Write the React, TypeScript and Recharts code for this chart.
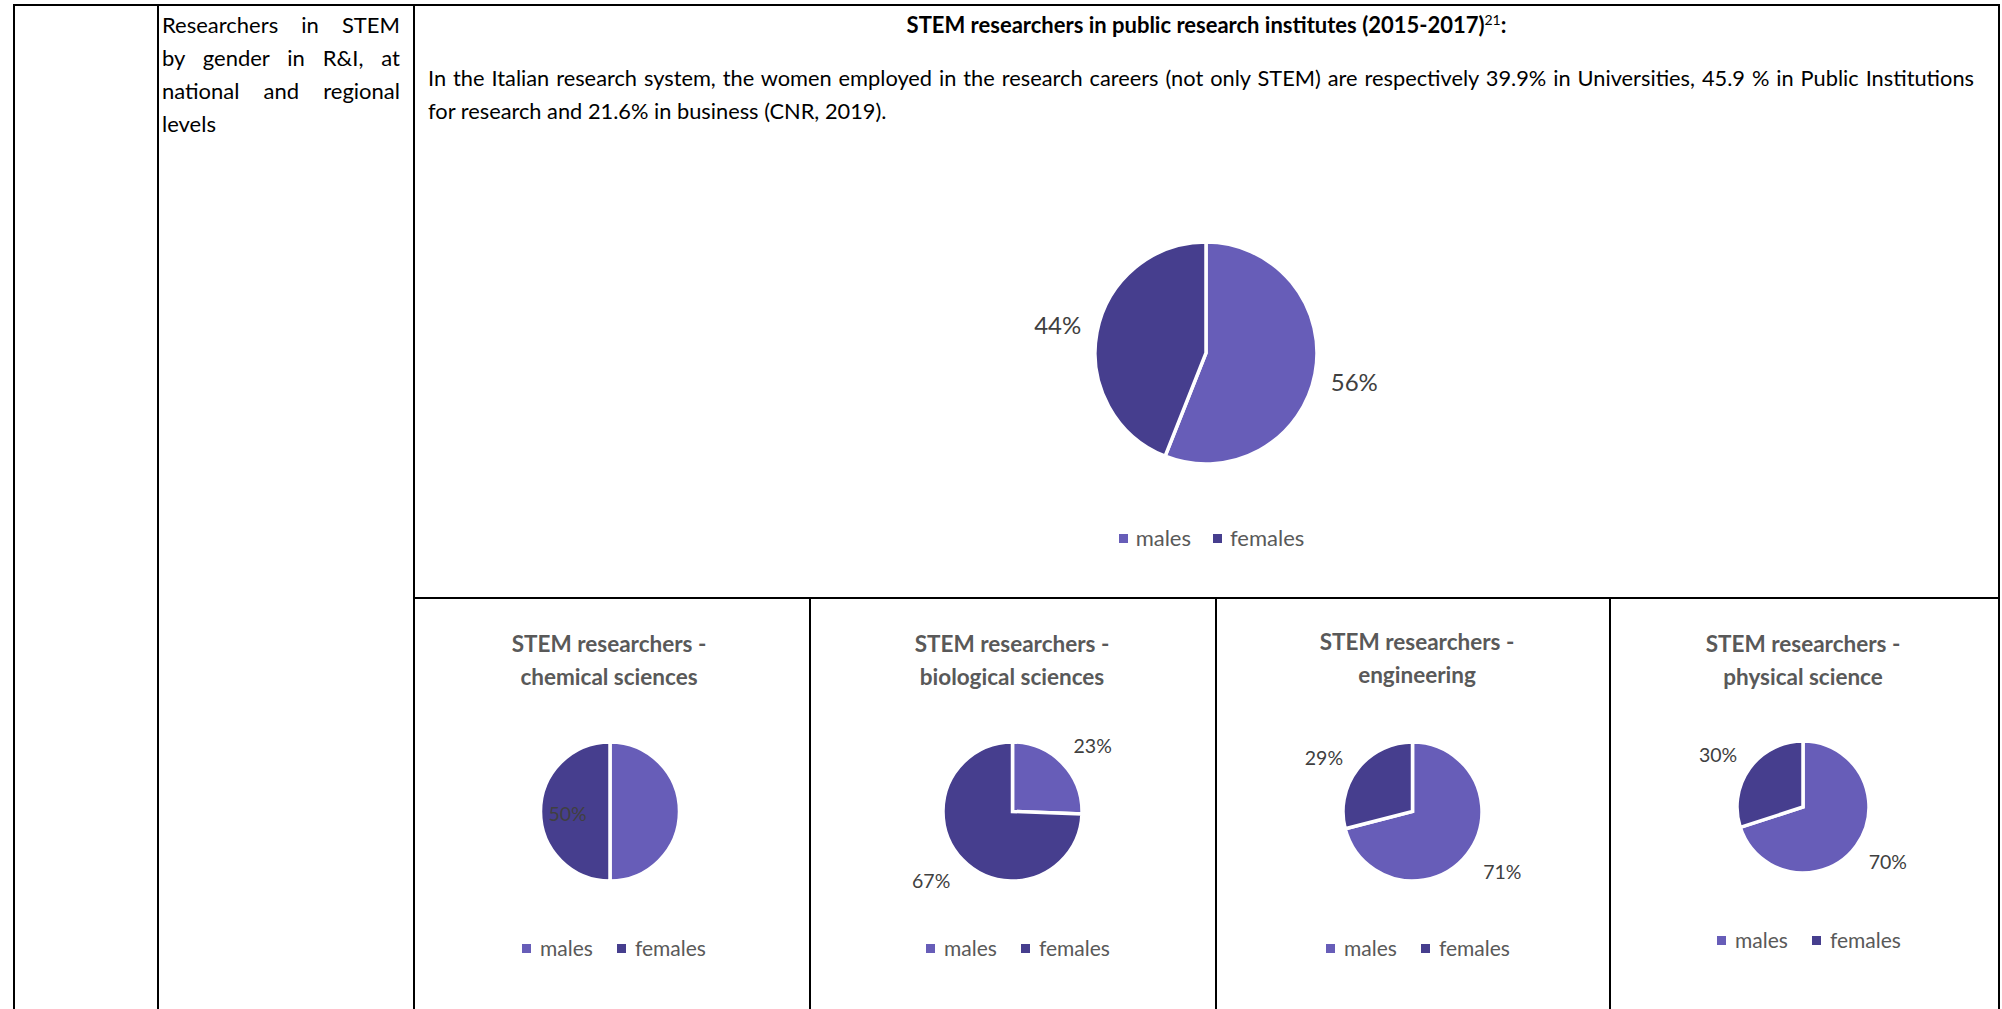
import React from 'react';
import { PieChart, Pie, Cell, Legend } from 'recharts';

// ---------- data ----------
const categories = ['males', 'females'];
const topValues = [56, 44];
const chemicalValues = [50, 50];
const biologicalValues = [23, 67];
const engineeringValues = [71, 29];
const physicalValues = [70, 30];

const topTitle = 'STEM researchers in public research institutes (2015-2017)';
const topTitleNote = '21';
const paragraphLines = [
  'In the Italian research system, the women employed in the research careers (not only STEM) are respectively 39.9% in Universities, 45.9 % in Public Institutions',
  'for research and 21.6% in business (CNR, 2019).',
];
const rowLabelLines = ['Researchers in STEM', 'by gender in R&I, at', 'national and regional', 'levels'];
const subTitles = [
  ['STEM researchers -', 'chemical sciences'],
  ['STEM researchers -', 'biological sciences'],
  ['STEM researchers -', 'engineering'],
  ['STEM researchers -', 'physical science'],
];

// ---------- styles ----------
const COLORS = ['#675DB8', '#463E8E'];
const FONT = "Lato, 'Open Sans', sans-serif";
const RAD = Math.PI / 180;

type LabelCfg = { dr: number; da: number; hide?: boolean };

type PieBlockProps = {
  values: number[];
  left: number;
  top: number;
  width: number;
  height: number;
  cx: number;
  cy: number;
  r: number;
  labelCfg: LabelCfg[];
  labelSize: number;
  legendTop: number;
  legendSize: number;
  legendShift: number;
  iconGap: number;
  itemGap: number;
  sliceGap: number;
  title?: string[];
  titleTop?: number;
};

function PieBlock(p: PieBlockProps) {
  const data = categories.map((name, i) => ({ name, value: p.values[i] }));

  const renderLabel = (lp: any) => {
    const { cx, cy, midAngle, outerRadius, value, index } = lp;
    const c = p.labelCfg[index];
    if (!c || c.hide) return <g />;
    const rr = outerRadius + c.dr;
    const a = (midAngle + c.da) * RAD;
    const x = cx + rr * Math.cos(a);
    const y = cy - rr * Math.sin(a);
    return (
      <text
        x={x}
        y={y}
        textAnchor="middle"
        dominantBaseline="central"
        fill="#404040"
        fontSize={p.labelSize}
        fontFamily={FONT}
      >
        {value}%
      </text>
    );
  };

  const renderLegend = (lp: any) => {
    const raw =
      lp && lp.payload && lp.payload.length
        ? [...lp.payload]
        : data.map((d, i) => ({ value: d.name, color: COLORS[i] }));
    const payload = raw.sort(
      (a: any, b: any) => categories.indexOf(a.value) - categories.indexOf(b.value)
    );
    return (
      <div
        style={{
          display: 'flex',
          justifyContent: 'center',
          alignItems: 'center',
          fontFamily: FONT,
          fontSize: p.legendSize,
          lineHeight: '28px',
          color: '#595959',
          transform: `translateX(${p.legendShift}px)`,
        }}
      >
        {payload.map((e: any, i: number) => (
          <span
            key={i}
            style={{ display: 'flex', alignItems: 'center', marginLeft: i ? p.itemGap : 0 }}
          >
            <span
              style={{
                width: 9,
                height: 9,
                background: e.color || COLORS[categories.indexOf(e.value)],
                marginRight: p.iconGap,
                display: 'inline-block',
              }}
            />
            <span>{e.value}</span>
          </span>
        ))}
      </div>
    );
  };

  return (
    <div style={{ position: 'absolute', left: p.left, top: p.top, width: p.width, height: p.height }}>
      {p.title && (
        <div
          style={{
            position: 'absolute',
            left: 0,
            top: p.titleTop,
            width: p.width,
            textAlign: 'center',
            fontFamily: FONT,
            fontWeight: 700,
            fontSize: 22.5,
            lineHeight: '33px',
            color: '#595959',
            whiteSpace: 'nowrap',
          }}
        >
          {p.title.map((t, i) => (
            <div key={i}>{t}</div>
          ))}
        </div>
      )}
      <PieChart width={p.width} height={p.height} margin={{ top: 0, right: 0, bottom: 0, left: 0 }}>
        <Pie
          data={data}
          dataKey="value"
          nameKey="name"
          cx={p.cx}
          cy={p.cy}
          outerRadius={p.r}
          startAngle={90}
          endAngle={-270}
          stroke="#ffffff"
          strokeWidth={p.sliceGap}
          label={renderLabel}
          labelLine={false}
          isAnimationActive={false}
        >
          {data.map((d, i) => (
            <Cell key={d.name} fill={COLORS[i]} />
          ))}
        </Pie>
        <Legend
          content={renderLegend}
          wrapperStyle={{ top: p.legendTop, left: 0, width: p.width, bottom: 'auto' }}
        />
      </PieChart>
    </div>
  );
}

const line = (style: React.CSSProperties) => (
  <div style={{ position: 'absolute', background: '#000', ...style }} />
);

export default function App() {
  const bottomTop = 599;
  const bottomH = 410;
  const bw = 380;
  return (
    <div
      style={{
        position: 'absolute',
        left: 0,
        top: 0,
        width: 2002,
        height: 1009,
        background: '#fff',
        overflow: 'hidden',
        fontFamily: FONT,
      }}
    >
      {/* table borders */}
      {line({ left: 13, top: 4, width: 1987, height: 2 })}
      {line({ left: 13, top: 4, width: 2, height: 1005 })}
      {line({ left: 157, top: 4, width: 2, height: 1005 })}
      {line({ left: 413, top: 4, width: 2, height: 1005 })}
      {line({ left: 1998, top: 4, width: 2, height: 1005 })}
      {line({ left: 413, top: 597, width: 1587, height: 2 })}
      {line({ left: 809, top: 597, width: 2, height: 412 })}
      {line({ left: 1215, top: 597, width: 2, height: 412 })}
      {line({ left: 1609, top: 597, width: 2, height: 412 })}

      {/* row label */}
      <div
        style={{
          position: 'absolute',
          left: 162,
          top: 8,
          width: 238,
          fontSize: 22,
          lineHeight: '33px',
          color: '#000',
        }}
      >
        {rowLabelLines.map((t, i) => (
          <div
            key={i}
            style={{
              textAlign: i < rowLabelLines.length - 1 ? 'justify' : 'left',
              textAlignLast: i < rowLabelLines.length - 1 ? 'justify' : 'left',
              whiteSpace: 'nowrap',
            }}
          >
            {t}
          </div>
        ))}
      </div>

      {/* top title */}
      <div
        style={{
          position: 'absolute',
          left: 415,
          top: 7.5,
          width: 1583,
          textAlign: 'center',
          fontWeight: 700,
          fontSize: 22,
          lineHeight: '33px',
          color: '#000',
          whiteSpace: 'nowrap',
        }}
      >
        {topTitle}
        <sup style={{ fontWeight: 400, fontSize: 14, verticalAlign: 'super', lineHeight: 0 }}>{topTitleNote}</sup>:
      </div>

      {/* paragraph */}
      <div
        style={{
          position: 'absolute',
          left: 428,
          top: 60.5,
          width: 1546,
          fontSize: 21.8,
          lineHeight: '33px',
          color: '#000',
        }}
      >
        {paragraphLines.map((t, i) => (
          <div
            key={i}
            style={{
              textAlign: i === 0 ? 'justify' : 'left',
              textAlignLast: i === 0 ? 'justify' : 'left',
              whiteSpace: 'nowrap',
            }}
          >
            {t}
          </div>
        ))}
      </div>

      {/* top pie */}
      <PieBlock
        values={topValues}
        left={415}
        top={120}
        width={1583}
        height={470}
        cx={791}
        cy={233}
        r={111}
        labelCfg={[
          { dr: 40, da: 0 },
          { dr: 40, da: 0 },
        ]}
        labelSize={24}
        legendTop={404}
        legendSize={22}
        legendShift={5}
        iconGap={8}
        itemGap={22}
        sliceGap={3.5}
      />

      {/* bottom pies */}
      <PieBlock
        values={chemicalValues}
        left={419}
        top={bottomTop}
        width={bw}
        height={bottomH}
        cx={191}
        cy={212.5}
        r={69.5}
        labelCfg={[
          { dr: 0, da: 0, hide: true },
          { dr: -27, da: 3 },
        ]}
        labelSize={19.5}
        legendTop={335}
        legendSize={21}
        legendShift={5}
        iconGap={9}
        itemGap={24}
        sliceGap={3.5}
        title={subTitles[0]}
        titleTop={27.5}
      />
      <PieBlock
        values={biologicalValues}
        left={822}
        top={bottomTop}
        width={bw}
        height={bottomH}
        cx={190.5}
        cy={212.5}
        r={69.5}
        labelCfg={[
          { dr: 34.5, da: -4.4 },
          { dr: 37.5, da: -3.5 },
        ]}
        labelSize={19.5}
        legendTop={335}
        legendSize={21}
        legendShift={6}
        iconGap={9}
        itemGap={24}
        sliceGap={3.5}
        title={subTitles[1]}
        titleTop={27.5}
      />
      <PieBlock
        values={engineeringValues}
        left={1227}
        top={bottomTop}
        width={bw}
        height={bottomH}
        cx={185.5}
        cy={212.5}
        r={69.5}
        labelCfg={[
          { dr: 38.5, da: 4.1 },
          { dr: 34.5, da: 6.2 },
        ]}
        labelSize={19.5}
        legendTop={335}
        legendSize={21}
        legendShift={1}
        iconGap={9}
        itemGap={24}
        sliceGap={3.5}
        title={subTitles[2]}
        titleTop={25.5}
      />
      <PieBlock
        values={physicalValues}
        left={1613}
        top={bottomTop}
        width={bw}
        height={bottomH}
        cx={190}
        cy={208}
        r={66}
        labelCfg={[
          { dr: 35, da: 3.1 },
          { dr: 33.6, da: 4.5 },
        ]}
        labelSize={19.5}
        legendTop={327}
        legendSize={21}
        legendShift={6}
        iconGap={9}
        itemGap={24}
        sliceGap={3.5}
        title={subTitles[3]}
        titleTop={27.5}
      />
    </div>
  );
}
